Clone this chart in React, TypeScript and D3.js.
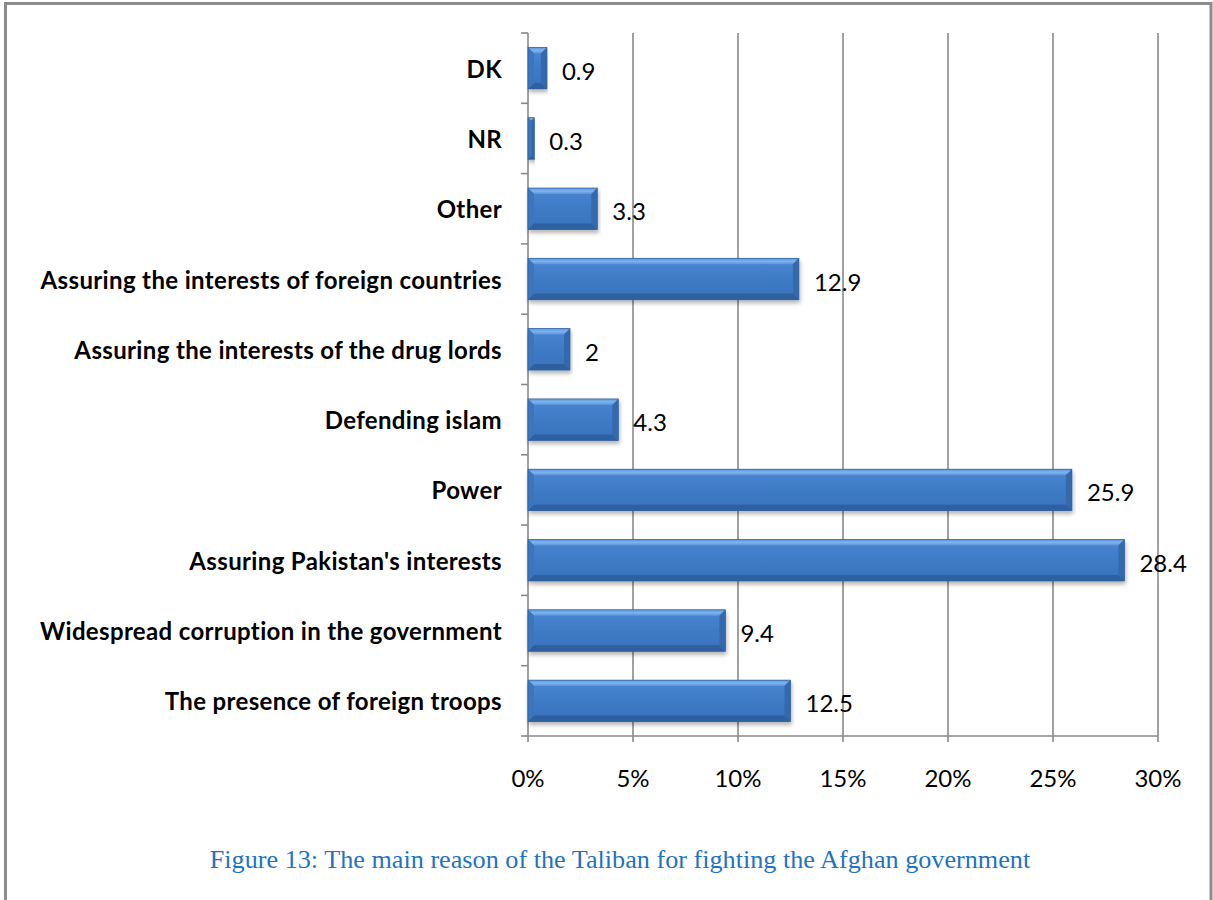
import React from "react";
import * as d3 from "d3";

const categories = [
  "DK",
  "NR",
  "Other",
  "Assuring the interests of foreign countries",
  "Assuring the interests of the drug lords",
  "Defending islam",
  "Power",
  "Assuring Pakistan's interests",
  "Widespread corruption in the government",
  "The presence of foreign troops",
];
const values = [0.9, 0.3, 3.3, 12.9, 2, 4.3, 25.9, 28.4, 9.4, 12.5];
const labels = ["0.9", "0.3", "3.3", "12.9", "2", "4.3", "25.9", "28.4", "9.4", "12.5"];
const tickValues = [0, 5, 10, 15, 20, 25, 30];
const caption = "Figure 13: The main reason of the Taliban for fighting the Afghan government";

const W = 1213;
const H = 900;
const left = 528;
const right = 1158;
const top = 33;
const bottom = 736;

export default function App() {
  const x = d3.scaleLinear().domain([0, 30]).range([left, right]);
  const y = d3.scaleBand<string>().domain(categories).range([top, bottom]).paddingInner(0.41).paddingOuter(0.205);
  const bw = y.bandwidth();
  const grid = "#8a8a8a";
  const labelFont = "Lato, 'Open Sans', sans-serif";
  const boundaries = d3.range(categories.length + 1).map((i) => top + ((bottom - top) * i) / categories.length);

  return (
    <div style={{ position: "absolute", left: 0, top: 0 }}>
      <svg width={W} height={H} style={{ display: "block", background: "#fff" }}>
        <defs>
          <linearGradient id="barGrad" x1="0" y1="0" x2="0" y2="1">
            <stop offset="0" stopColor="#4a86d2" />
            <stop offset="0.5" stopColor="#3f7bc6" />
            <stop offset="1" stopColor="#3872bc" />
          </linearGradient>
          <linearGradient id="topGrad" x1="0" y1="0" x2="0" y2="1">
            <stop offset="0" stopColor="#5c96dc" />
            <stop offset="0.5" stopColor="#7db3ef" />
            <stop offset="1" stopColor="#5a94da" />
          </linearGradient>
          <filter id="shadow" x="-5%" y="-20%" width="110%" height="160%">
            <feGaussianBlur in="SourceAlpha" stdDeviation="2" />
            <feOffset dx="1" dy="3" result="ob" />
            <feComponentTransfer>
              <feFuncA type="linear" slope="0.3" />
            </feComponentTransfer>
            <feMerge>
              <feMergeNode />
              <feMergeNode in="SourceGraphic" />
            </feMerge>
          </filter>
        </defs>

        {/* frame */}
        <path d={`M5.5,${H} L5.5,3.5 L1211,3.5 L1211,${H}`} fill="none" stroke="#8c8c8c" strokeWidth={3} />

        {/* gridlines */}
        {tickValues.map((t) => (
          <line key={"g" + t} x1={x(t)} x2={x(t)} y1={top} y2={bottom + 6} stroke={grid} strokeWidth={1.6} />
        ))}
        {/* axes */}
        <line x1={left} x2={right} y1={bottom} y2={bottom} stroke={grid} strokeWidth={1.6} />
        {boundaries.map((b, i) => (
          <line key={"yt" + i} x1={left - 7} x2={left} y1={b} y2={b} stroke={grid} strokeWidth={1.6} />
        ))}

        {/* bars */}
        {categories.map((c, i) => {
          const y0 = y(c)!;
          const x0 = x(0);
          const x1 = x(values[i]);
          const w = x1 - x0;
          const bev = Math.min(6, w / 2);
          const yb = y0 + bw;
          return (
            <g key={c} filter="url(#shadow)">
              <rect x={x0} y={y0} width={w} height={bw} fill="url(#barGrad)" />
              {/* top bevel */}
              <polygon points={`${x0},${y0} ${x1},${y0} ${x1 - bev},${y0 + bev} ${x0 + bev},${y0 + bev}`} fill="url(#topGrad)" />
              {/* bottom bevel */}
              <polygon points={`${x0},${yb} ${x1},${yb} ${x1 - bev},${yb - bev} ${x0 + bev},${yb - bev}`} fill="#2e5e9f" />
              {/* left bevel */}
              <polygon points={`${x0},${y0} ${x0 + bev},${y0 + bev} ${x0 + bev},${yb - bev} ${x0},${yb}`} fill="#3a74bf" />
              {/* right bevel */}
              <polygon points={`${x1},${y0} ${x1},${yb} ${x1 - bev},${yb - bev} ${x1 - bev},${y0 + bev}`} fill="#3569ae" />
              <rect x={x0} y={y0} width={w} height={bw} fill="none" stroke="#30609f" strokeWidth={0.7} />
            </g>
          );
        })}

        {/* category labels */}
        {categories.map((c) => (
          <text
            key={"l" + c}
            x={502}
            y={y(c)! + bw / 2}
            textAnchor="end"
            dominantBaseline="central"
            fontFamily={labelFont}
            fontWeight="bold"
            fontSize={24}
            letterSpacing={0.35}
            fill="#000"
          >
            {c}
          </text>
        ))}

        {/* value labels */}
        {categories.map((c, i) => (
          <text
            key={"v" + c}
            x={x(values[i]) + 15}
            y={y(c)! + bw / 2 + 2}
            dominantBaseline="central"
            fontFamily={labelFont}
            fontSize={24}
            fill="#000"
          >
            {labels[i]}
          </text>
        ))}

        {/* x tick labels */}
        {tickValues.map((t) => (
          <text key={"x" + t} x={x(t)} y={787} textAnchor="middle" fontFamily={labelFont} fontSize={24} fill="#000">
            {t + "%"}
          </text>
        ))}

        {/* caption */}
        <text x={620} y={868} textAnchor="middle" fontFamily="'Liberation Serif', 'Times New Roman', serif" fontSize={26.2} fill="#1f73c2">
          {caption}
        </text>
      </svg>
    </div>
  );
}
